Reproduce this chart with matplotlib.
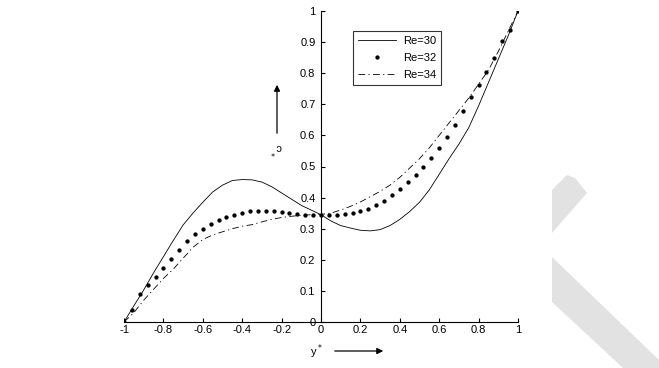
import numpy as np
import matplotlib.pyplot as plt
from matplotlib.patches import Polygon

plt.rcParams['font.family'] = ['Liberation Sans', 'DejaVu Sans']

# Re=30, solid line
x30 = [-1.0, -0.95, -0.9, -0.85, -0.8, -0.75, -0.7, -0.65, -0.6, -0.55, -0.5,
       -0.45, -0.4, -0.35, -0.3, -0.25, -0.2, -0.15, -0.1, -0.05, 0.0,
       0.05, 0.1, 0.15, 0.2, 0.25, 0.3, 0.35, 0.4, 0.45, 0.5,
       0.55, 0.6, 0.65, 0.7, 0.75, 0.8, 0.85, 0.9, 0.95, 1.0]
y30 = [0.0, 0.052, 0.103, 0.158, 0.21, 0.262, 0.312, 0.35, 0.385, 0.418, 0.44,
       0.455, 0.458, 0.457, 0.45, 0.435, 0.415, 0.395, 0.375, 0.36, 0.345,
       0.325, 0.31, 0.302, 0.295, 0.293, 0.297, 0.31, 0.33, 0.355, 0.385,
       0.425, 0.475, 0.525, 0.572, 0.625, 0.695, 0.77, 0.845, 0.92, 1.0]

# Re=32, dots
x32 = [-1.0, -0.96, -0.92, -0.88, -0.84, -0.8, -0.76, -0.72, -0.68, -0.64, -0.6,
       -0.56, -0.52, -0.48, -0.44, -0.4, -0.36, -0.32, -0.28, -0.24, -0.2,
       -0.16, -0.12, -0.08, -0.04, 0.0, 0.04, 0.08, 0.12, 0.16, 0.2,
       0.24, 0.28, 0.32, 0.36, 0.4, 0.44, 0.48, 0.52, 0.56, 0.6,
       0.64, 0.68, 0.72, 0.76, 0.8, 0.84, 0.88, 0.92, 0.96, 1.0]
y32 = [0.0, 0.04, 0.09, 0.118, 0.145, 0.175, 0.203, 0.23, 0.26, 0.282, 0.3,
       0.315, 0.328, 0.337, 0.345, 0.351, 0.356, 0.358, 0.358, 0.356, 0.354,
       0.351, 0.348, 0.345, 0.343, 0.345, 0.343, 0.344, 0.347, 0.351, 0.356,
       0.364, 0.375, 0.39, 0.407, 0.427, 0.45, 0.474, 0.5, 0.528, 0.56,
       0.595, 0.635, 0.68, 0.722, 0.763, 0.805, 0.85, 0.903, 0.94, 1.0]

# Re=34, dash-dot
x34 = x30
y34 = [0.0, 0.03, 0.07, 0.105, 0.14, 0.17, 0.205, 0.24, 0.265, 0.28, 0.29,
       0.3, 0.308, 0.313, 0.322, 0.33, 0.336, 0.34, 0.343, 0.345, 0.346,
       0.35, 0.36, 0.372, 0.386, 0.403, 0.42, 0.44, 0.465, 0.495, 0.525,
       0.56, 0.6, 0.64, 0.68, 0.72, 0.765, 0.81, 0.87, 0.935, 1.0]

xticks = [-1, -0.8, -0.6, -0.4, -0.2, 0, 0.2, 0.4, 0.6, 0.8, 1]
xlabels = ['-1', '-0.8', '-0.6', '-0.4', '-0.2', '0', '0.2', '0.4', '0.6', '0.8', '1']
yticks = [0, 0.1, 0.2, 0.3, 0.4, 0.5, 0.6, 0.7, 0.8, 0.9, 1]
ylabels = ['0', '0.1', '0.2', '0.3', '0.4', '0.5', '0.6', '0.7', '0.8', '0.9', '1']

fig = plt.figure(figsize=(6.59, 3.68), dpi=100)
ax = fig.add_axes([124 / 659, 1 - 322 / 368, 394 / 659, 311 / 368])

ax.plot(x30, y30, color='black', lw=0.6, label='Re=30')
ax.plot(x32, y32, linestyle='none', marker='o', ms=2.1, color='black', label='Re=32')
ax.plot(x34, y34, color='black', lw=0.6, linestyle=(0, (8, 4, 1.5, 4)), label='Re=34')

ax.set_xlim(-1, 1)
ax.set_ylim(0, 1)
ax.spines['left'].set_position(('data', 0))
ax.spines['right'].set_visible(False)
ax.spines['top'].set_visible(False)
for s in ax.spines.values():
    s.set_linewidth(0.8)
ax.set_xticks(xticks)
ax.set_xticklabels(xlabels)
ax.set_yticks(yticks)
ax.set_yticklabels(ylabels)
ax.tick_params(direction='in', length=3, width=0.8, labelsize=8, colors='black')
ax.tick_params(axis='x', pad=2)
ax.tick_params(axis='y', pad=4)

leg = ax.legend(loc='upper left', bbox_to_anchor=(0.568, 0.955), fontsize=8,
                frameon=True, fancybox=False, edgecolor='black', handlelength=3.4,
                borderpad=0.45, labelspacing=0.65, handletextpad=0.6)
leg.get_frame().set_linewidth(0.8)

# axis labels with arrows
fig.text(277 / 659, 1 - 148 / 368, 'c$^*$', fontsize=8, rotation=180,
         ha='center', va='center')
ax.annotate('', xy=(277 / 659, 1 - 82 / 368), xytext=(277 / 659, 1 - 136 / 368),
            xycoords='figure fraction', textcoords='figure fraction',
            arrowprops=dict(arrowstyle='-|>', color='black', lw=0.9,
                            mutation_scale=9))
fig.text(316 / 659, 1 - 352 / 368, 'y$^*$', fontsize=8, ha='center', va='center')
ax.annotate('', xy=(386 / 659, 1 - 351 / 368), xytext=(332 / 659, 1 - 351 / 368),
            xycoords='figure fraction', textcoords='figure fraction',
            arrowprops=dict(arrowstyle='-|>', color='black', lw=0.9,
                            mutation_scale=9))

# light grey watermark shapes on the right
W, H = 659, 368
up = [(552, 190), (567, 175), (575, 178), (587, 193), (552, 233)]
low = [(552, 257), (659, 360), (659, 368), (623, 368), (552, 302)]
for pts in (up, low):
    fig.patches.append(Polygon([(px / W, 1 - py / H) for px, py in pts],
                               closed=True, transform=fig.transFigure,
                               facecolor='#e2e2e2', edgecolor='none', zorder=0))

fig.savefig('out.png', dpi=100)
